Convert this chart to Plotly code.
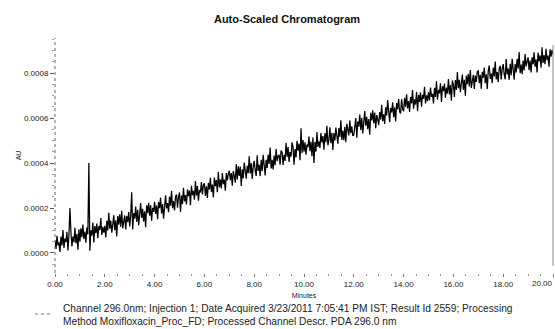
import plotly.graph_objects as go

# Time axis (minutes), one reading every 0.04 min
time_min = [round(i * 0.04, 2) for i in range(501)]

# Absorbance, in micro-AU (1e-6 AU), one row per minute
absorbance_uau = [
    56, 18, 76, 34, 48, 5, 73, 34, 102, 22, 64, 49, 94, 11, 80, 200, 91, 29, 73, 48, 112, 43, 85, 15, 105,
    50, 110, 70, 126, 62, 95, 46, 113, 83, 400, 10, 101, 77, 135, 47, 120, 88, 131, 66, 119, 102, 155, 80, 116, 90,
    121, 69, 143, 100, 179, 108, 144, 90, 127, 168, 101, 145, 74, 164, 126, 172, 116, 188, 109, 142, 167, 105, 164, 137, 182,
    118, 166, 270, 105, 177, 153, 207, 139, 192, 123, 174, 222, 156, 196, 140, 185, 115, 212, 177, 223, 166, 213, 143, 201, 183,
    228, 174, 211, 150, 226, 199, 246, 176, 217, 152, 232, 257, 198, 222, 181, 251, 210, 277, 199, 231, 189, 250, 260, 201, 249,
    269, 182, 256, 217, 290, 229, 257, 216, 282, 253, 278, 212, 299, 257, 276, 237, 320, 255, 298, 233, 280, 269, 315, 260, 302,
    310, 254, 297, 245, 312, 283, 334, 271, 304, 247, 335, 297, 324, 270, 361, 292, 326, 287, 355, 306, 326, 277, 355, 323, 352,
    366, 324, 355, 299, 364, 342, 313, 395, 327, 386, 343, 384, 298, 372, 332, 402, 364, 330, 388, 355, 430, 354, 400, 329, 385,
    410, 366, 343, 434, 365, 392, 342, 414, 364, 437, 389, 345, 414, 378, 438, 396, 469, 376, 414, 372, 433, 390, 462, 408, 430,
    437, 393, 456, 448, 391, 437, 409, 490, 427, 471, 405, 449, 429, 492, 471, 393, 462, 425, 499, 455, 486, 413, 555, 444, 502,
    450, 492, 437, 482, 471, 518, 453, 495, 430, 514, 400, 493, 451, 538, 472, 496, 467, 533, 492, 520, 459, 532, 493, 566, 479,
    503, 559, 488, 534, 458, 533, 500, 558, 523, 486, 556, 516, 590, 503, 544, 502, 561, 493, 574, 545, 523, 589, 533, 563, 521,
    525, 573, 600, 513, 585, 562, 616, 547, 601, 532, 583, 631, 566, 606, 550, 596, 526, 623, 589, 634, 577, 624, 555, 613, 595,
    569, 627, 594, 659, 586, 617, 574, 648, 611, 680, 603, 582, 645, 625, 670, 604, 648, 585, 667, 639, 685, 628, 621, 684, 640,
    630, 690, 650, 706, 643, 676, 627, 694, 665, 725, 641, 683, 660, 717, 630, 703, 672, 714, 650, 703, 686, 739, 665, 701, 675,
    716, 678, 736, 694, 708, 665, 734, 694, 763, 682, 725, 710, 755, 672, 741, 720, 753, 690, 735, 709, 774, 705, 747, 677, 767,
    747, 694, 769, 725, 805, 733, 770, 715, 753, 793, 726, 770, 699, 789, 751, 797, 741, 813, 734, 766, 792, 729, 789, 761, 807,
    810, 755, 792, 730, 806, 779, 825, 755, 795, 729, 810, 834, 774, 798, 756, 825, 785, 851, 772, 804, 761, 821, 832, 772, 819,
    840, 795, 772, 862, 794, 820, 770, 841, 791, 863, 816, 771, 840, 803, 863, 820, 894, 800, 838, 795, 856, 812, 885, 830, 852,
    870, 813, 856, 803, 870, 840, 892, 828, 861, 803, 891, 852, 879, 824, 915, 845, 880, 840, 908, 858, 878, 828, 906, 873, 902,
    885,
]
assert len(absorbance_uau) == len(time_min), len(absorbance_uau)
absorbance_au = [v * 1e-6 for v in absorbance_uau]

x_tick_vals = [0, 2, 4, 6, 8, 10, 12, 14, 16, 18, 20]
x_tick_text = ["0.00", "2.00", "4.00", "6.00", "8.00", "10.00", "12.00", "14.00", "16.00", "18.00", "20.00"]
y_tick_vals = [0.0, 0.0002, 0.0004, 0.0006, 0.0008]
y_tick_text = ["0.0000", "0.0002", "0.0004", "0.0006", "0.0008"]

title_text = "Auto-Scaled Chromatogram"
legend_text = ("Channel 296.0nm; Injection 1; Date Acquired 3/23/2011 7:05:41 PM IST; Result Id 2559; Processing"
               "<br>Method Moxifloxacin_Proc_FD; Processed Channel Descr. PDA 296.0 nm")

FONT = "Liberation Sans, Arial, sans-serif"
TICK_FONT = dict(size=8, family=FONT, color="#222")

fig = go.Figure()
fig.add_trace(go.Scatter(
    x=time_min, y=absorbance_au, mode="lines",
    line=dict(color="black", width=1.25),
    showlegend=False, hoverinfo="skip",
))

fig.update_layout(
    width=555, height=329,
    margin=dict(l=55, r=2, t=38, b=56, autoexpand=False),
    paper_bgcolor="white", plot_bgcolor="white",
    font=dict(family=FONT, color="#222"),
    showlegend=False,
    title=dict(text="<b>" + title_text + "</b>", x=287 / 555, xanchor="center",
               y=1 - 19 / 329, yanchor="middle", font=dict(size=11, color="#111")),
    xaxis=dict(
        range=[0, 20], showgrid=False, zeroline=False, showline=False, automargin=False,
        # last label is placed flush with the right edge below so it is not clipped
        tickvals=x_tick_vals, ticktext=x_tick_text[:-1] + [""],
        ticks="outside", ticklen=3, tickcolor="#777", tickwidth=1,
        minor=dict(dtick=0.5, ticks="outside", ticklen=2, tickcolor="#999"),
        tickfont=TICK_FONT,
        title=dict(text="Minutes", font=dict(size=7, family=FONT), standoff=5),
    ),
    yaxis=dict(
        range=[-0.000089, 0.000956], showgrid=False, zeroline=False, showline=False, automargin=False,
        tickvals=y_tick_vals, ticktext=y_tick_text,
        ticks="outside", ticklen=4, tickcolor="#555", tickwidth=1,
        minor=dict(dtick=0.00005, ticks="outside", ticklen=2, tickcolor="#999"),
        tickfont=TICK_FONT,
        title=dict(text="AU", font=dict(size=7, family=FONT), standoff=1),
    ),
)

fig.add_annotation(text=x_tick_text[-1], xref="paper", yref="paper",
                   x=(555 - 55) / 498, y=(273 - 283) / 235,
                   xanchor="right", yanchor="middle", showarrow=False,
                   font=TICK_FONT)

# dotted left axis line and thin right border
fig.add_shape(type="line", xref="paper", yref="paper", x0=0, x1=0, y0=0, y1=1,
              line=dict(color="#666", width=1, dash="dot"))
fig.add_shape(type="line", xref="paper", yref="paper", x0=1, x1=1, y0=0.03, y1=0.97,
              line=dict(color="#888", width=1))

# legend sample (dashed) and text
fig.add_shape(type="line", xref="paper", yref="paper",
              x0=(35 - 55) / 498, x1=(52 - 55) / 498,
              y0=(273 - 314) / 235, y1=(273 - 314) / 235,
              line=dict(color="#777", width=1, dash="3px,3px"))
fig.add_annotation(text=legend_text, xref="paper", yref="paper",
                   x=(61 - 55) / 498, y=(273 - 315) / 235,
                   xanchor="left", yanchor="middle", align="left", showarrow=False,
                   font=dict(size=10.2, family=FONT, color="#222"))

fig.write_html("out.html")
